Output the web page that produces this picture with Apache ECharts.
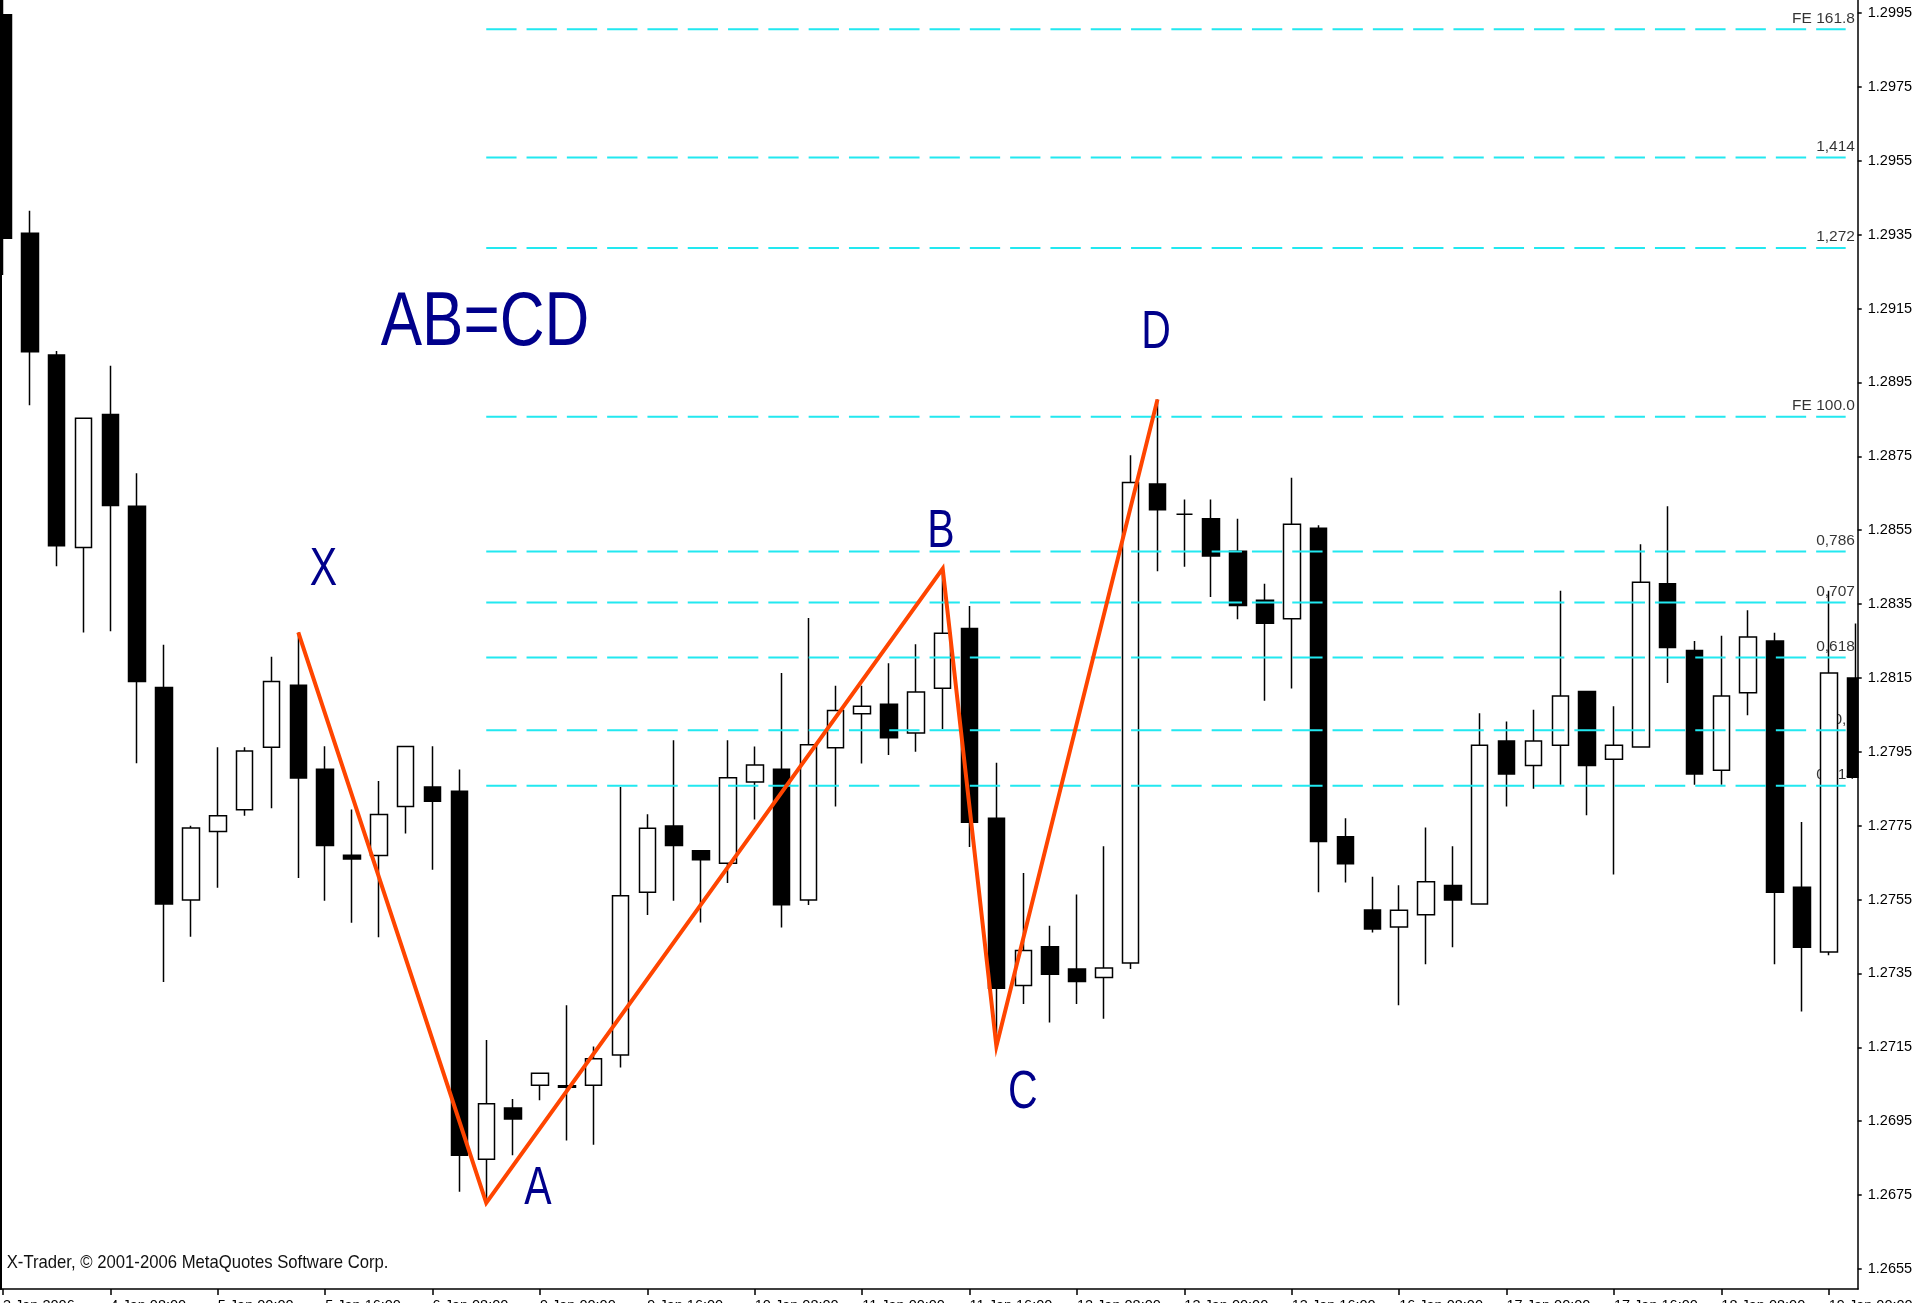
<!DOCTYPE html>
<html>
<head>
<meta charset="utf-8">
<script src="https://cdn.jsdelivr.net/npm/echarts@6/dist/echarts.min.js"></script>
<style>
html,body{margin:0;padding:0;background:#ffffff;}
#main{width:1915px;height:1303px;}
</style>
</head>
<body>
<div id="main"></div>
<script>
// ---------- data ----------
const tickLabels = ['3 Jan 2006','4 Jan 08:00','5 Jan 00:00','5 Jan 16:00','6 Jan 08:00','9 Jan 00:00',
  '9 Jan 16:00','10 Jan 08:00','11 Jan 00:00','11 Jan 16:00','12 Jan 08:00','13 Jan 00:00',
  '13 Jan 16:00','16 Jan 08:00','17 Jan 00:00','17 Jan 16:00','18 Jan 08:00','19 Jan 00:00'];

const opens  = [1.29945,1.29354,1.29024,1.28503,1.28863,1.28615,1.28124,1.27549,1.27734,1.27793,
                1.27962,1.28130,1.27903,1.27670,1.27669,1.27802,1.27855,1.27843,1.26847,1.26986,
                1.27047,1.27046,1.27047,1.27129,1.27570,1.27749,1.27682,1.27648,1.27868,1.27903,
                1.27549,1.27961,1.28053,1.28079,1.28001,1.28122,1.28284,1.27770,1.27317,1.27422,
                1.27362,1.27339,1.27378,1.28675,1.28593,1.28581,1.28493,1.28360,1.28310,1.28555,
                1.27720,1.27522,1.27476,1.27509,1.27588,1.27538,1.27979,1.27913,1.27968,1.28113,
                1.27930,1.27963,1.28405,1.28224,1.27900,1.28110,1.28250,1.27583,1.27408,1.28150];
const closes = [1.29340,1.29033,1.28508,1.28853,1.28617,1.28140,1.27538,1.27744,1.27777,1.27952,
                1.28140,1.27879,1.27696,1.27660,1.27780,1.27964,1.27816,1.26858,1.26997,1.26956,
                1.27080,1.27042,1.27119,1.27560,1.27743,1.27696,1.27658,1.27880,1.27914,1.27536,
                1.27969,1.28062,1.28073,1.27988,1.28112,1.28271,1.27759,1.27310,1.27412,1.27348,
                1.27328,1.27365,1.28679,1.28605,1.28593,1.28480,1.28346,1.28298,1.28566,1.27707,
                1.27647,1.27470,1.27521,1.27598,1.27549,1.27968,1.27890,1.27979,1.28101,1.27913,
                1.27968,1.28409,1.28232,1.27890,1.28101,1.28261,1.27570,1.27421,1.28163,1.27881];
const lows   = [1.29241,1.28888,1.28452,1.28273,1.28276,1.27919,1.27327,1.27449,1.27582,1.27777,
                1.27797,1.27608,1.27547,1.27487,1.27448,1.27729,1.27631,1.26759,1.26729,1.26858,
                1.27007,1.26898,1.26886,1.27095,1.27508,1.27547,1.27488,1.27595,1.27767,1.27474,
                1.27535,1.27802,1.27918,1.27941,1.27950,1.28012,1.27692,1.27153,1.27267,1.27217,
                1.27267,1.27227,1.27362,1.28439,1.28451,1.28369,1.28309,1.28088,1.28121,1.27570,
                1.27596,1.27461,1.27264,1.27375,1.27421,1.27538,1.27802,1.27850,1.27861,1.27778,
                1.27618,1.27963,1.28136,1.27861,1.27861,1.28049,1.27375,1.27247,1.27399,1.27881];
const highs  = [1.29985,1.29415,1.29035,1.28853,1.28995,1.28704,1.28240,1.27750,1.27962,1.27962,
                1.28207,1.28273,1.27965,1.27794,1.27871,1.27964,1.27965,1.27902,1.27170,1.27010,
                1.27080,1.27264,1.27152,1.27855,1.27781,1.27981,1.27682,1.27981,1.27964,1.28163,
                1.28312,1.28129,1.28129,1.28190,1.28241,1.28446,1.28345,1.27920,1.27622,1.27479,
                1.27564,1.27694,1.28753,1.28904,1.28633,1.28633,1.28581,1.28405,1.28692,1.28563,
                1.27770,1.27612,1.27589,1.27745,1.27694,1.28054,1.28032,1.28064,1.28386,1.28113,
                1.28073,1.28512,1.28615,1.28250,1.28264,1.28333,1.28272,1.27760,1.28386,1.28297];

const patternNames = ['X','A','B','C','D'];
const patternIndex = [11, 18, 35, 37, 43];
const patternPrice = [1.28273, 1.26729, 1.28446, 1.27153, 1.28904];

const levelNames  = ['FE 161.8','1,414','1,272','FE 100.0','0,786','0,707','0,618','0,5','0,414'];
const levelValues = [1.29906, 1.29559, 1.29314, 1.28857, 1.28492, 1.28354, 1.28205, 1.28008, 1.27858];

const priceTicks = [1.2655,1.2675,1.2695,1.2715,1.2735,1.2755,1.2775,1.2795,1.2815,
                    1.2835,1.2855,1.2875,1.2895,1.2915,1.2935,1.2955,1.2975,1.2995];

// ---------- layout / style constants ----------
const N = opens.length;
const GRID = {left: -10.475, right: 45.975, top: 0, bottom: 14, outerBoundsMode: 'none', containLabel: false};
const Y_MIN = 1.264957, Y_MAX = 1.299852;
const LEVEL_END = 68.63;
const FONT = '"Liberation Sans", Arial, sans-serif';
const CYAN = '#22e8f0';
const ORANGE = '#ff4500';
const NAVY = '#00008b';

const categories = opens.map((_, i) => 'b' + i);
const candles = opens.map((o, i) => [o, closes[i], lows[i], highs[i]]);

const levelSeries = levelValues.map((v) => ({
  type: 'line', xAxisIndex: 1, yAxisIndex: 0, z: 3, silent: true,
  symbol: 'none', animation: false,
  data: [[patternIndex[1], v], [LEVEL_END, v]],
  lineStyle: {color: CYAN, width: 2, type: [30.3, 10]}
}));

const option = {
  animation: false,
  backgroundColor: '#ffffff',
  grid: GRID,
  xAxis: [{
    type: 'category', data: categories, boundaryGap: true, position: 'bottom',
    axisLine: {show: true, onZero: false, lineStyle: {color: '#000', width: 1.5}},
    axisTick: {show: true, interval: 3, alignWithLabel: true, length: 6, lineStyle: {color: '#000', width: 1.5}},
    axisLabel: {show: true, interval: 3, align: 'left', margin: 9, color: '#000',
      fontFamily: FONT, fontSize: 14.5, hideOverlap: false,
      formatter: (v, i) => (i % 4 === 0 ? tickLabels[i / 4] : '')},
    splitLine: {show: false}
  }, {
    type: 'value', min: -0.5, max: N - 0.5, show: false,
    axisLine: {onZero: false}
  }],
  yAxis: [{
    type: 'value', position: 'right', offset: -11.3, min: Y_MIN, max: Y_MAX, z: 10,
    axisLine: {show: true, onZero: false, lineStyle: {color: '#000', width: 1.5}},
    axisTick: {show: true, inside: false, length: 4, customValues: priceTicks, lineStyle: {color: '#000', width: 1.5}},
    axisLabel: {show: true, margin: 10, color: '#000', fontFamily: FONT, fontSize: 14.5,
      customValues: priceTicks, formatter: (v) => v.toFixed(4)},
    splitLine: {show: false}
  }, {
    type: 'value', position: 'left', offset: -11.475, min: Y_MIN, max: Y_MAX, z: 10,
    axisLine: {show: true, onZero: false, lineStyle: {color: '#000', width: 2}},
    axisTick: {show: false}, axisLabel: {show: false}, splitLine: {show: false}
  }],
  series: [
    {
      type: 'scatter', xAxisIndex: 1, yAxisIndex: 0, z: 1, silent: true,
      symbolSize: 1, itemStyle: {color: 'rgba(0,0,0,0)'},
      data: levelValues.map((v) => [LEVEL_END, v]),
      label: {show: true, position: 'inside', align: 'right', verticalAlign: 'bottom',
        offset: [9.3, -3], color: '#000', fontFamily: FONT, fontSize: 15.5,
        formatter: (p) => levelNames[p.dataIndex]}
    },
    {
      type: 'candlestick', xAxisIndex: 0, yAxisIndex: 0, z: 2, silent: true,
      barWidth: 17, clip: true,
      data: candles,
      itemStyle: {color: '#ffffff', color0: '#000000', borderColor: '#000000',
        borderColor0: '#000000', borderColorDoji: '#000000', borderWidth: 1.5}
    },
    ...levelSeries,
    {
      type: 'line', xAxisIndex: 1, yAxisIndex: 0, z: 4, silent: true,
      symbol: 'none',
      data: patternIndex.map((x, k) => [x, patternPrice[k]]),
      lineStyle: {color: ORANGE, width: 4, join: 'miter'}
    }
  ]
};

const chart = echarts.init(document.getElementById('main'), null, {renderer: 'canvas'});
chart.setOption(option);

// letters placed relative to the pattern points, converted through the axes
const letterOffsets = [[25.2, -62.4], [51.7, -13.5], [-1.8, -36.7], [26.4, 46.7], [-1.4, -66]];
const letters = patternNames.map((name, k) => {
  const p = chart.convertToPixel({xAxisIndex: 1, yAxisIndex: 0}, [patternIndex[k], patternPrice[k]]);
  return {
    type: 'text', x: p[0] + letterOffsets[k][0], y: p[1] + letterOffsets[k][1],
    scaleX: 1, scaleY: 1.3, z: 20, silent: true,
    style: {text: name, fill: NAVY, fontFamily: FONT, fontSize: 41,
      font: '41px ' + FONT,
      align: 'center', verticalAlign: 'middle', textAlign: 'center', textVerticalAlign: 'middle'}
  };
});

chart.setOption({
  graphic: [
    {type: 'rect', z: 8, silent: true, shape: {x: 1858.6, y: 0, width: 70, height: 1290},
      style: {fill: '#ffffff'}},
    ...letters,
    {type: 'text', x: 485, y: 324, scaleY: 1.22, z: 20, silent: true,
      style: {text: 'AB=CD', fill: NAVY, fontFamily: FONT, fontSize: 62, font: '62px ' + FONT,
        align: 'center', verticalAlign: 'middle', textAlign: 'center', textVerticalAlign: 'middle'}},
    {type: 'text', x: 6.7, y: 1263, scaleY: 1.1, z: 20, silent: true,
      style: {text: 'X-Trader, © 2001-2006 MetaQuotes Software Corp.', fill: '#111',
        fontFamily: FONT, fontSize: 16.7, font: '16.7px ' + FONT,
        align: 'left', verticalAlign: 'middle', textAlign: 'left', textVerticalAlign: 'middle'}}
  ]
});
</script>
</body>
</html>
